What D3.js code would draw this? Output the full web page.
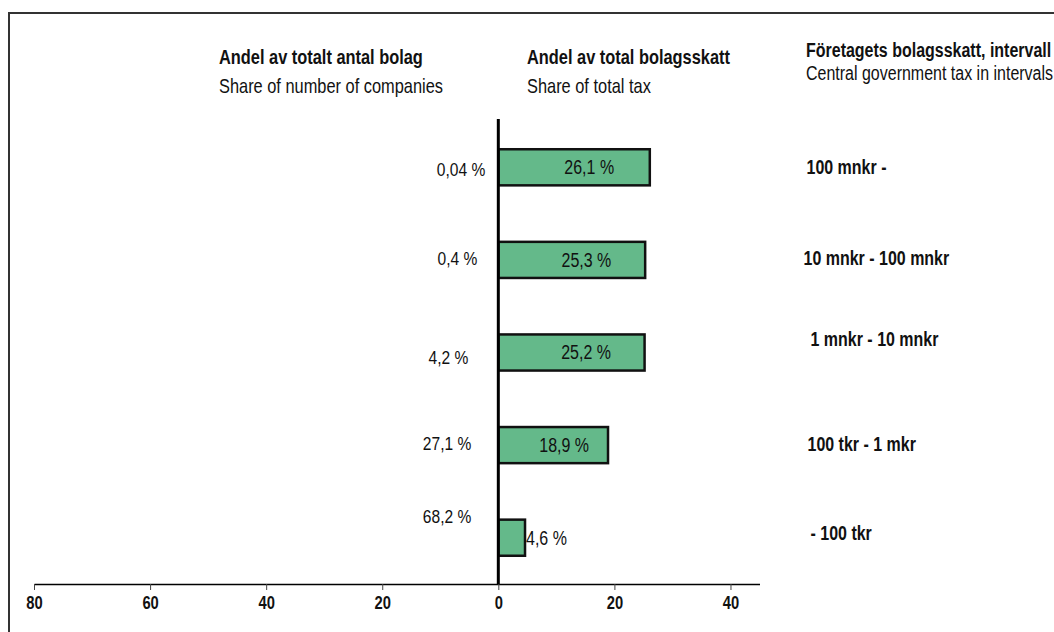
<!DOCTYPE html>
<html>
<head>
<meta charset="utf-8">
<script src="https://cdn.jsdelivr.net/npm/d3@7"></script>
<style>
  html, body { margin: 0; padding: 0; background: #fff; }
  svg { display: block; font-family: "Liberation Sans Narrow", "Arial Narrow", "Liberation Sans", Arial, sans-serif; }
</style>
</head>
<body>
<svg id="chart" width="1054" height="632"></svg>
<script>
// Tax intervals, top to bottom
const categories = ["100 mnkr -", "10 mnkr - 100 mnkr", "1 mnkr - 10 mnkr", "100 tkr - 1 mkr", "- 100 tkr"];
// Share of total corporate tax (%)
const taxShare = [26.1, 25.3, 25.2, 18.9, 4.6];
// Share of number of companies (%)
const companyShare = [0.04, 0.4, 4.2, 27.1, 68.2];
// Axis tick values (left side shown as positive numbers)
const tickValues = [-80, -60, -40, -20, 0, 20, 40];

// Small hand-placed nudges for the labels [dx, dy]
const leftNudge = [[-13, 2], [-21, -2], [-30, 5], [-27, -2], [-27, -21]];
const rightNudge = [[1, 0], [-2, -2], [5, -13], [2, -1], [5, -5]];

const fmt = v => String(v).replace(".", ",") + " %";

// Horizontal squeeze that gives the regular sans a narrow cut
const SQUEEZE = 0.82;
function condense(sel) {
  sel.each(function () {
    const t = d3.select(this);
    const tx = +(t.attr("x") || 0), ty = +(t.attr("y") || 0);
    t.attr("x", 0).attr("y", 0)
     .attr("transform", `translate(${tx},${ty}) scale(${SQUEEZE},1)`);
  });
}

const svg = d3.select("#chart");

// Frame lines (top and left)
svg.append("path")
  .attr("d", "M9,632 V13 H1054")
  .attr("fill", "none")
  .attr("stroke", "#333")
  .attr("stroke-width", 2);

const x = d3.scaleLinear().domain([-80, 45]).range([34, 759.5]);
const y = d3.scaleBand().domain(categories).range([121, 584]).paddingInner(0.61).paddingOuter(0.305);

// Headers
const headers = [
  { x: 219, y1: 64, y2: 93, size: 20, t1: "Andel av totalt antal bolag", t2: "Share of number of companies" },
  { x: 527, y1: 64, y2: 93, size: 20, t1: "Andel av total bolagsskatt", t2: "Share of total tax" },
  { x: 806, y1: 57, y2: 80, size: 19.5, t1: "Företagets bolagsskatt, intervall", t2: "Central government tax in intervals" }
];
const gh = svg.append("g");
headers.forEach(h => {
  gh.append("text").attr("x", h.x).attr("y", h.y1)
    .attr("font-size", h.size).attr("font-weight", "bold").attr("fill", "#111").text(h.t1);
  gh.append("text").attr("x", h.x).attr("y", h.y2)
    .attr("font-size", h.size).attr("fill", "#111").text(h.t2);
});
condense(gh.selectAll("text"));

// Bottom axis
const axis = d3.axisBottom(x)
  .tickValues(tickValues)
  .tickFormat(d => Math.abs(d))
  .tickSize(6)
  .tickSizeOuter(0);
const gx = svg.append("g").attr("transform", `translate(0,${584})`).call(axis);
gx.select(".domain").attr("stroke", "#000").attr("stroke-width", 1.5);
gx.selectAll(".tick line").attr("stroke", "#444").attr("stroke-width", 1);
gx.selectAll(".tick text")
  .attr("font-family", "inherit")
  .attr("font-size", 18).attr("font-weight", "bold").attr("fill", "#111")
  .attr("y", 12);
condense(gx.selectAll(".tick text"));

// Bars: share of total tax
svg.append("g").selectAll("rect")
  .data(taxShare)
  .join("rect")
  .attr("x", x(0))
  .attr("y", (d, i) => y(categories[i]))
  .attr("width", d => x(d) - x(0))
  .attr("height", y.bandwidth())
  .attr("fill", "#64b98a")
  .attr("stroke", "#111")
  .attr("stroke-width", 2.5);

// Zero line
svg.append("line")
  .attr("x1", x(0)).attr("x2", x(0))
  .attr("y1", 119).attr("y2", 584)
  .attr("stroke", "#000").attr("stroke-width", 3);

// Value labels for the tax share
const gv = svg.append("g");
gv.selectAll("text")
  .data(taxShare)
  .join("text")
  .attr("x", d => d < 10 ? x(d) + 1 : x(d * 0.6))
  .attr("y", (d, i) => y(categories[i]) + y.bandwidth() / 2)
  .attr("dy", "0.35em")
  .attr("text-anchor", d => d < 10 ? "start" : "middle")
  .attr("font-size", 19.5).attr("fill", "#111")
  .text(fmt);
condense(gv.selectAll("text"));

// Labels for the share of companies
const gl = svg.append("g");
gl.selectAll("text")
  .data(companyShare)
  .join("text")
  .attr("x", (d, i) => x(0) + leftNudge[i][0])
  .attr("y", (d, i) => y(categories[i]) + y.bandwidth() / 2 + leftNudge[i][1])
  .attr("dy", "0.35em")
  .attr("text-anchor", "end")
  .attr("font-size", 19).attr("fill", "#111")
  .text(fmt);
condense(gl.selectAll("text"));

// Interval labels on the right
const gr = svg.append("g");
gr.selectAll("text")
  .data(categories)
  .join("text")
  .attr("x", (d, i) => x(45) + 46 + rightNudge[i][0])
  .attr("y", (d, i) => y(d) + y.bandwidth() / 2 + rightNudge[i][1])
  .attr("dy", "0.35em")
  .attr("font-size", 19.5).attr("font-weight", "bold").attr("fill", "#111")
  .text(d => d);
condense(gr.selectAll("text"));
</script>
</body>
</html>
